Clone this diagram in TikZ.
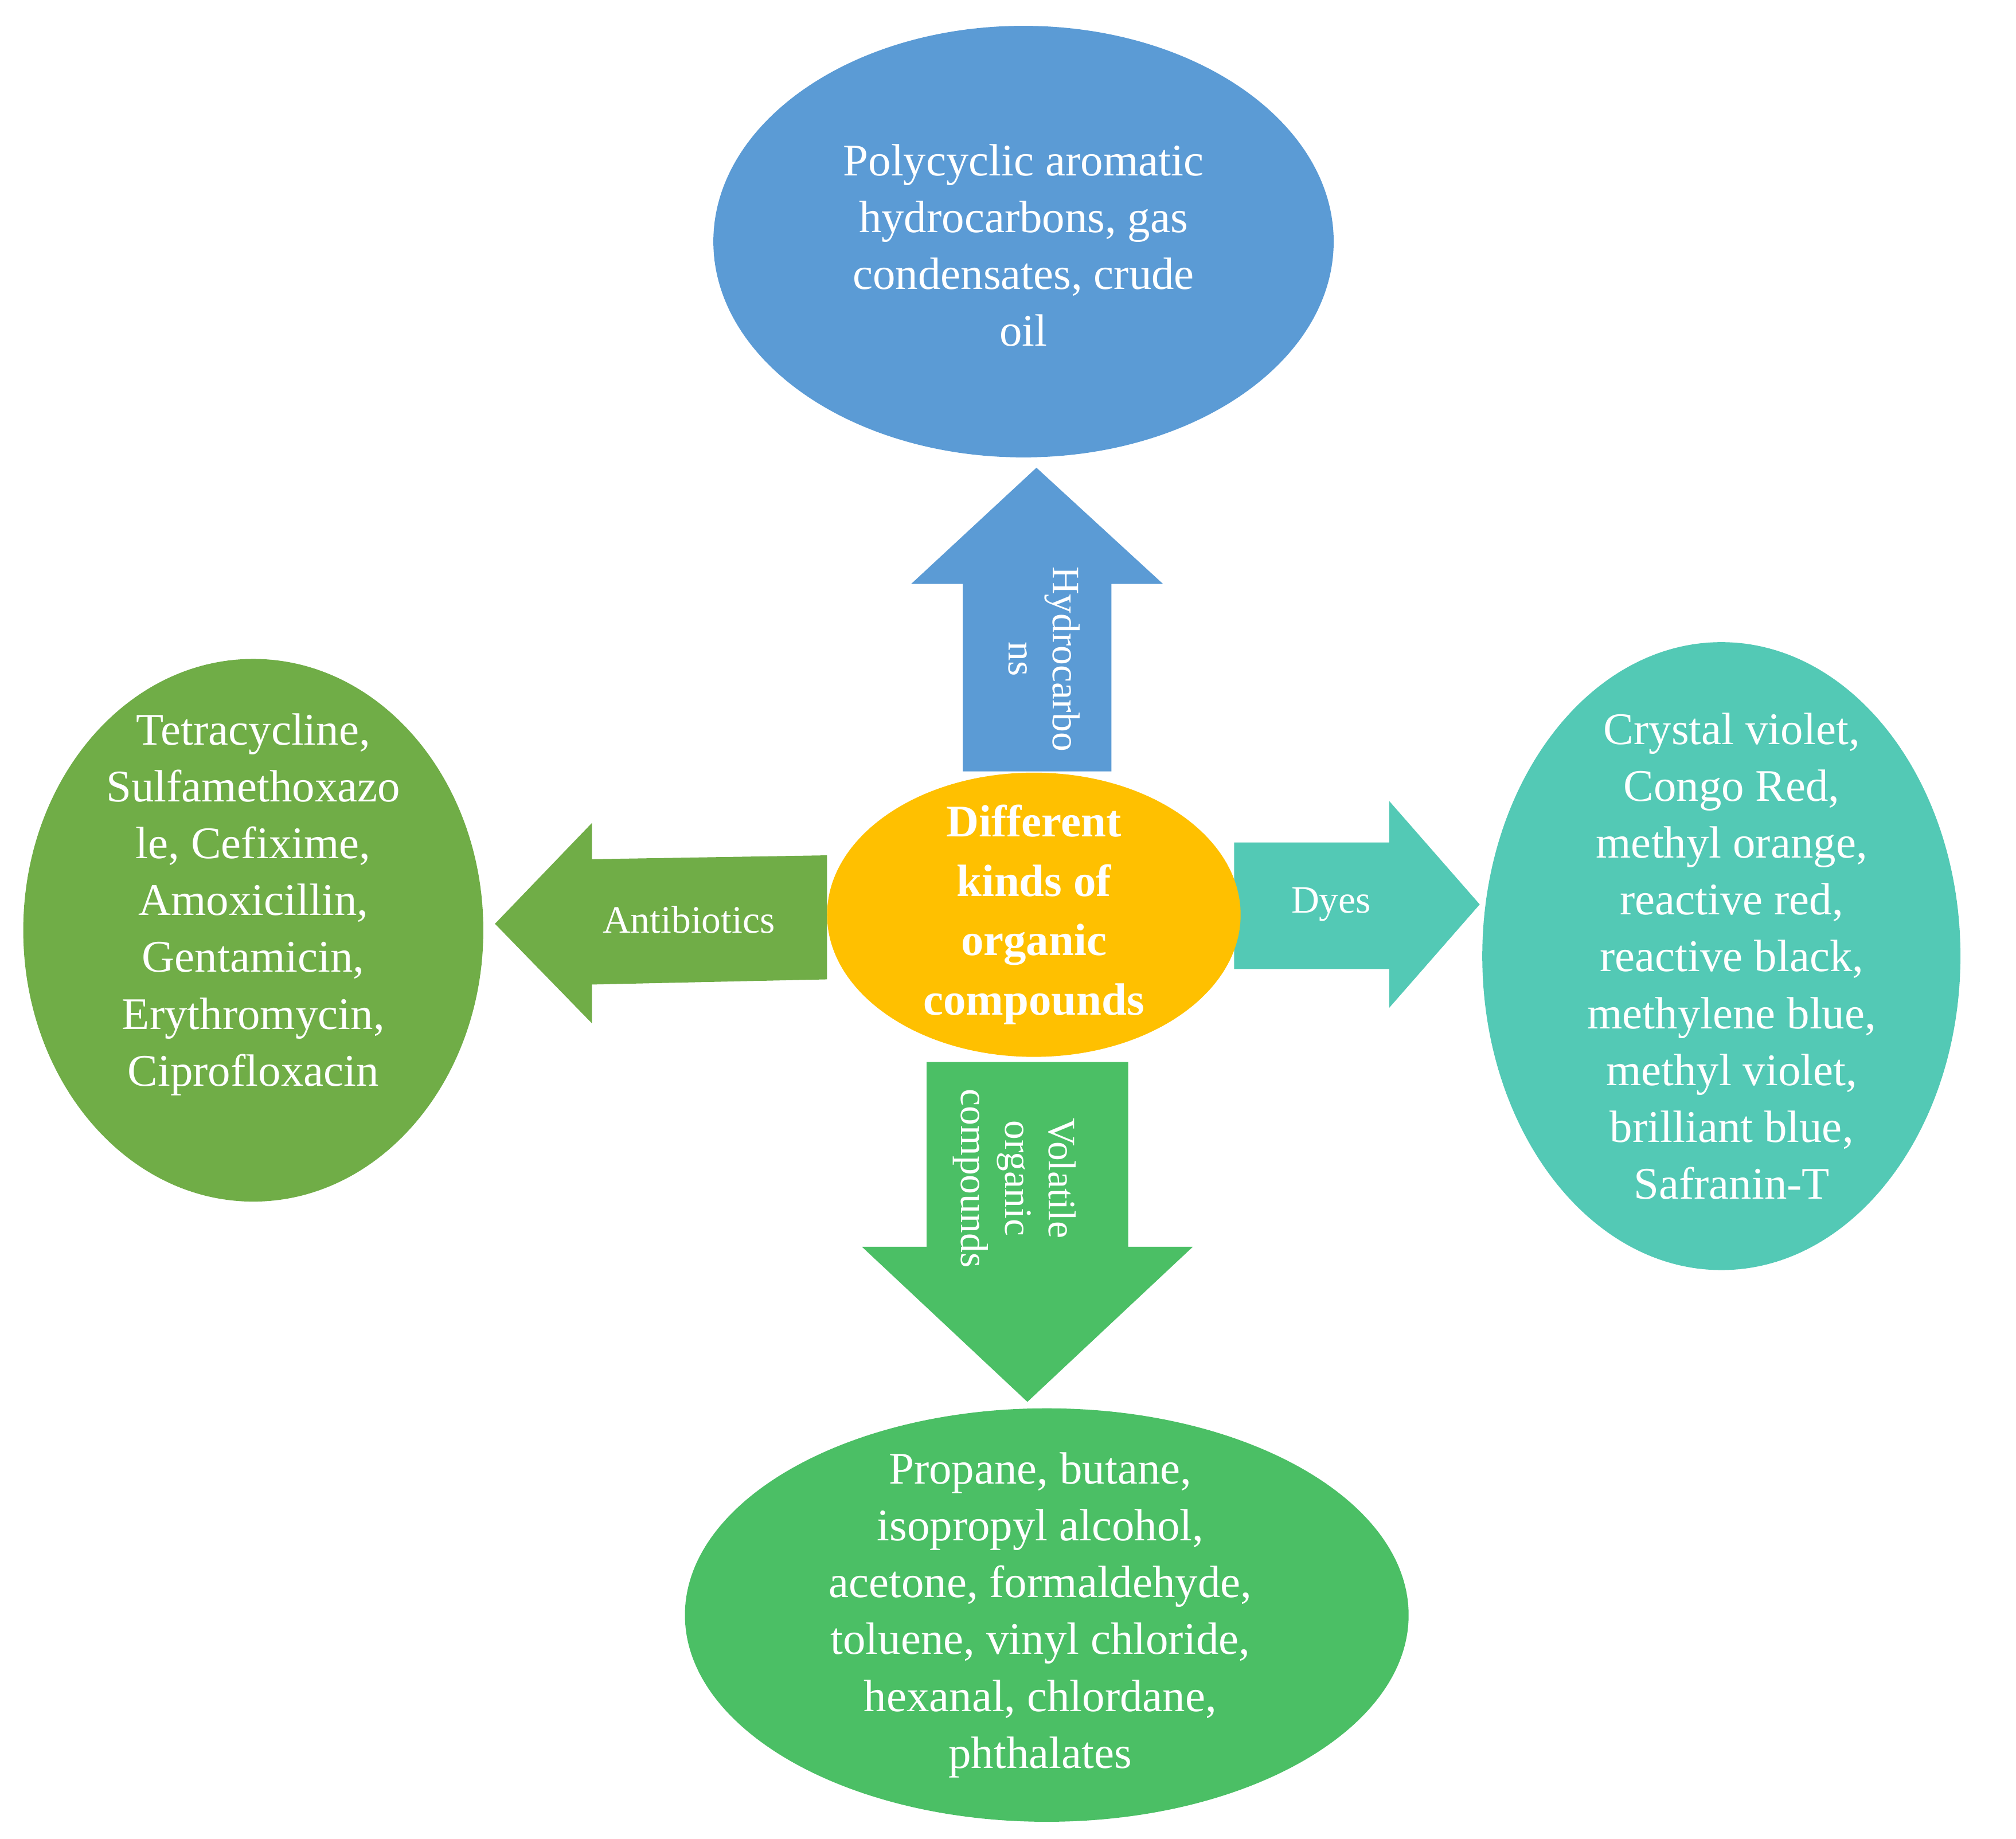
\documentclass[tikz,border=0pt]{standalone}
\usepackage{fontspec}
\setmainfont{Liberation Serif}
\begin{document}
\begin{tikzpicture}[x=1pt,y=-1pt,
  ell/.style={ellipse,inner sep=0pt,text=white,align=center,font=\fontsize{35}{44}\selectfont},
  lbl/.style={text=white,align=center,font=\fontsize{30}{34}\selectfont}]
\usetikzlibrary{shapes.geometric}
\definecolor{cblue}{HTML}{5B9BD5}
\definecolor{corange}{HTML}{FFC000}
\definecolor{colive}{HTML}{70AD47}
\definecolor{cteal}{HTML}{53C9B5}
\definecolor{cgreen}{HTML}{4BBF65}
\useasboundingbox (0,0) rectangle (1560,1423);
% ellipses
\fill[cblue] (792,187) ellipse [x radius=240, y radius=167];
\node[ell] (top) at (792,190) {Polycyclic aromatic\\hydrocarbons, gas\\condensates, crude\\oil};
\fill[colive] (196,720) ellipse [x radius=178, y radius=210];
\node[ell] (left) at (196,700) {Tetracycline,\\Sulfamethoxazo\\le, Cefixime,\\Amoxicillin,\\Gentamicin,\\Erythromycin,\\Ciprofloxacin};
\fill[cteal] (1332,740) ellipse [x radius=185, y radius=243];
\node[ell] (right) at (1340,740) {Crystal violet,\\Congo Red,\\methyl orange,\\reactive red,\\reactive black,\\methylene blue,\\methyl violet,\\brilliant blue,\\Safranin-T};
\fill[cgreen] (810,1250) ellipse [x radius=280, y radius=160];
\node[ell] (bottom) at (805,1250) {Propane, butane,\\isopropyl alcohol,\\acetone, formaldehyde,\\toluene, vinyl chloride,\\hexanal, chlordane,\\phthalates};
% arrows
\fill[cblue] (745,597) -- (745,452) -- (705,452) -- (802,362) -- (900,452) -- (860,452) -- (860,597) -- cycle;
\node[lbl,rotate=-90] (ha) at (808,510) {Hydrocarbo\\ns};
\fill[colive] (640,662) -- (458,665) -- (458,637) -- (383,715) -- (458,792) -- (458,762) -- (640,758) -- cycle;
\node[lbl] (aa) at (533,712) {Antibiotics};
\fill[cteal] (955,652) -- (1075,652) -- (1075,620) -- (1145,700) -- (1075,780) -- (1075,750) -- (955,750) -- cycle;
\node[lbl] (da) at (1030,700) {Dyes};
\fill[cgreen] (717,822) -- (873,822) -- (873,965) -- (923,965) -- (795,1085) -- (667,965) -- (717,965) -- cycle;
\node[lbl,rotate=-90] (va) at (785,912) {Volatile\\organic\\compounds};
% centre
\fill[corange] (800,708) ellipse [x radius=160, y radius=110];
\node[ell,font=\bfseries\fontsize{35}{46}\selectfont] (c) at (800,708) {Different\\kinds of\\organic\\compounds};
\end{tikzpicture}
\end{document}
